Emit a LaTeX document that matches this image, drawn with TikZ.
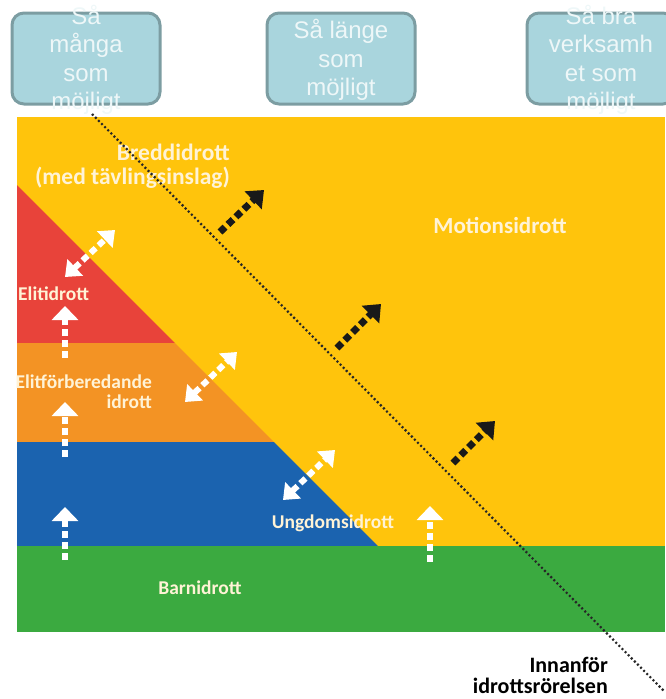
\documentclass[tikz,border=0pt]{standalone}
\usepackage{fontspec}
\setmainfont{Carlito}
\newfontfamily\arialf{Liberation Sans}
\usetikzlibrary{arrows.meta}
\definecolor{cyel}{HTML}{FFC40C}
\definecolor{cred}{HTML}{E8433A}
\definecolor{cora}{HTML}{F39324}
\definecolor{cblu}{HTML}{1B63AF}
\definecolor{cgre}{HTML}{3BAA40}
\definecolor{ccream}{HTML}{FFF3D6}
\definecolor{cboxf}{HTML}{A9D5DD}
\definecolor{cboxd}{HTML}{7C9DA2}
\definecolor{cboxt}{HTML}{EEF7F8}
\begin{document}
\begin{tikzpicture}[x=1pt,y=-1pt,
  goalbox/.style={draw=cboxd, fill=cboxf, line width=3pt, rounded corners=12pt,
    minimum width=148pt, minimum height=91pt, inner sep=0pt},
  goaltext/.style={text=cboxt, font=\arialf\fontsize{24}{28.5}\selectfont, align=center, inner sep=0pt},
  lab/.style={text=ccream, font=\bfseries\fontsize{19.5}{20}\selectfont, inner sep=0pt},
  wup/.style={white, line width=6pt, dash pattern=on 7pt off 4pt, -{Triangle[width=26pt,length=14pt]}},
  wboth/.style={white, line width=6pt, dash pattern=on 7pt off 4pt, {Triangle[width=22pt,length=14pt]}-{Triangle[width=22pt,length=14pt]}},
  bkar/.style={black!90, line width=7pt, dash pattern=on 7pt off 4pt, -{Triangle[width=24pt,length=15pt]}},
  dotl/.style={black!85, line width=2.2pt, dash pattern=on 2pt off 2.4pt}]
\useasboundingbox (0,0) rectangle (665,699);

% top goal boxes
\node[goalbox] (b1) at (86,58.5) {};
\node[goalbox] (b2) at (341,58.5) {};
\node[goalbox] (b3) at (601,58.5) {};
\node[goaltext] (t1) at (86,60) {Så\\många\\som\\möjligt};
\node[goaltext] (t2) at (341,60) {Så länge\\som\\möjligt};
\node[goaltext] (t3) at (601,60) {Så bra\\verksamh\\et som\\möjligt};

% coloured areas
\fill[cyel] (17,117) rectangle (665,546);
\fill[cred] (17,185) -- (175,343) -- (17,343) -- cycle;
\fill[cora] (17,343) -- (175,343) -- (274,442) -- (17,442) -- cycle;
\fill[cblu] (17,442) -- (274,442) -- (378,546) -- (17,546) -- cycle;
\fill[cgre] (17,546) rectangle (665,632);

% labels
\node[lab, font=\bfseries\fontsize{23.5}{24}\selectfont, align=right, anchor=east] (bredd) at (230,166) {Breddidrott\\(med tävlingsinslag)};
\node[lab, font=\bfseries\fontsize{23}{24}\selectfont] (motion) at (500,225) {Motionsidrott};
\node[lab, anchor=west] (elit) at (18,294) {Elitidrott};
\node[lab, align=right, anchor=east] (elitf) at (152,392) {Elitförberedande\\idrott};
\node[lab] (ungdom) at (333,523) {Ungdomsidrott};
\node[lab] (barn) at (200,588) {Barnidrott};
\node[text=black, font=\bfseries\fontsize{22}{21}\selectfont, align=right, anchor=east, inner sep=0pt] (inn) at (608,675) {Innanför\\idrottsrörelsen};

% arrow end points
\coordinate (u1a) at (65,358); \coordinate (u1b) at (65,306);
\coordinate (u2a) at (65,457); \coordinate (u2b) at (65,402);
\coordinate (u3a) at (65,560); \coordinate (u3b) at (65,507);
\coordinate (u4a) at (430,562); \coordinate (u4b) at (430,506);
\coordinate (d1a) at (65,277); \coordinate (d1b) at (115,230);
\coordinate (d2a) at (185,402); \coordinate (d2b) at (237,352);
\coordinate (d3a) at (283,500); \coordinate (d3b) at (335,450);
\coordinate (k1a) at (220,232); \coordinate (k1b) at (264,190);
\coordinate (k2a) at (337,348); \coordinate (k2b) at (381,304);
\coordinate (k3a) at (453,463); \coordinate (k3b) at (495,421);
\coordinate (l0) at (92,114); \coordinate (l1) at (665,692);

\draw[wup] (u1a) -- (u1b);
\draw[wup] (u2a) -- (u2b);
\draw[wup] (u3a) -- (u3b);
\draw[wup] (u4a) -- (u4b);
\draw[wboth] (d1a) -- (d1b);
\draw[wboth] (d2a) -- (d2b);
\draw[wboth] (d3a) -- (d3b);
\draw[bkar] (k1a) -- (k1b);
\draw[bkar] (k2a) -- (k2b);
\draw[bkar] (k3a) -- (k3b);

% boundary line
\draw[dotl] (l0) -- (l1);
\end{tikzpicture}
\end{document}
